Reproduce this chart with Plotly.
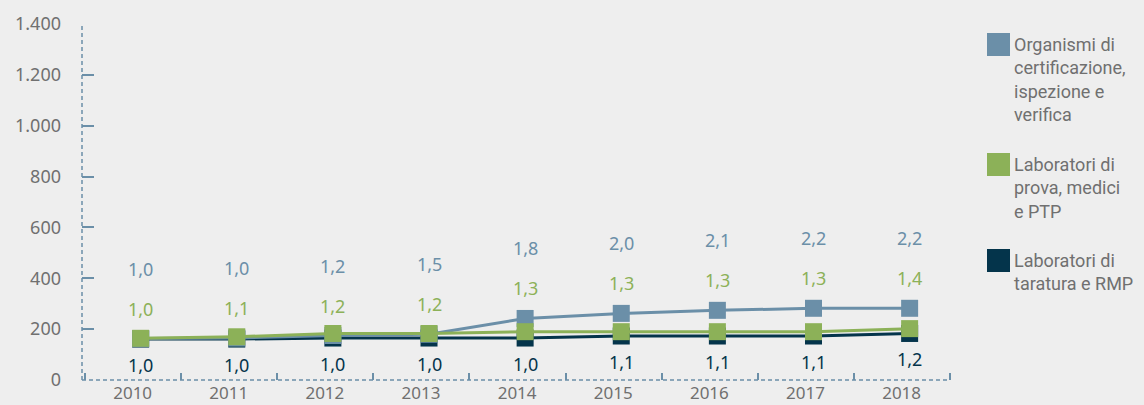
import plotly.graph_objects as go

# values
years = [2010, 2011, 2012, 2013, 2014, 2015, 2016, 2017, 2018]
cert_values = [163, 165, 175, 180, 242, 262, 274, 282, 282]
prova_values = [164, 170, 183, 183, 190, 190, 190, 190, 202]
taratura_values = [161, 161, 165, 165, 165, 173, 173, 173, 183]

cert_labels = ["1,0", "1,0", "1,2", "1,5", "1,8", "2,0", "2,1", "2,2", "2,2"]
prova_labels = ["1,0", "1,1", "1,2", "1,2", "1,3", "1,3", "1,3", "1,3", "1,4"]
taratura_labels = ["1,0", "1,0", "1,0", "1,0", "1,0", "1,1", "1,1", "1,1", "1,2"]

cert_name = "Organismi di<br>certificazione,<br>ispezione e<br>verifica"
prova_name = "Laboratori di<br>prova, medici<br>e PTP"
taratura_name = "Laboratori di<br>taratura e RMP"

BLUE = "#6b8fa8"
GREEN = "#8cb158"
DARK = "#04344b"
GREY = "#707070"
BG = "#eeeeee"
FONT = "Noto Sans"

# plot area in pixels
W, H = 1144, 405
L, R, T, B = 82, 950, 24, 380


def paper_x(px):
    return (px - L) / (R - L)


def paper_y(py):
    return (B - py) / (B - T)


def line_trace(values, color, name):
    return go.Scatter(x=years, y=values,
                      mode="lines+markers", name=name,
                      line=dict(color=color, width=3),
                      marker=dict(symbol="square", size=17, color=color),
                      showlegend=False, hoverinfo="skip")


fig = go.Figure()
fig.add_trace(line_trace(taratura_values, DARK, taratura_name))
fig.add_trace(line_trace(cert_values, BLUE, cert_name))
fig.add_trace(line_trace(prova_values, GREEN, prova_name))

annotations = []
for i, yr in enumerate(years):
    annotations.append(dict(x=yr, y=cert_values[i], xref="x", yref="y",
                            text=cert_labels[i], showarrow=False, yshift=70,
                            font=dict(color=BLUE, size=18, family=FONT)))
    annotations.append(dict(x=yr, y=cert_values[i], xref="x", yref="y",
                            text=prova_labels[i], showarrow=False, yshift=30,
                            font=dict(color=GREEN, size=18, family=FONT)))
    annotations.append(dict(x=yr, y=taratura_values[i], xref="x", yref="y",
                            text=taratura_labels[i], showarrow=False, yshift=-26,
                            font=dict(color=DARK, size=18, family=FONT)))

shapes = [
    # dashed axis lines
    dict(type="line", xref="paper", yref="paper", x0=0, x1=0, y0=0, y1=1,
         line=dict(color=BLUE, width=1.5, dash="4px,3px")),
    dict(type="line", xref="paper", yref="paper", x0=0, x1=1, y0=0, y1=0,
         line=dict(color=BLUE, width=1.5, dash="4px,3px")),
]

# custom legend
legend_items = [(cert_name, BLUE, 33), (prova_name, GREEN, 153), (taratura_name, DARK, 249)]
for name, color, top in legend_items:
    shapes.append(dict(type="rect", xref="paper", yref="paper",
                       x0=paper_x(987), x1=paper_x(1010),
                       y0=paper_y(top + 23), y1=paper_y(top),
                       fillcolor=color, line=dict(width=0)))
    annotations.append(dict(x=paper_x(1012), y=paper_y(top - 1), xref="paper", yref="paper",
                            xanchor="left", yanchor="top", align="left",
                            text=name, showarrow=False,
                            font=dict(color=GREY, size=18, family="Roboto")))

fig.update_layout(
    width=W, height=H,
    margin=dict(l=L, r=W - R, t=T, b=H - B),
    paper_bgcolor=BG, plot_bgcolor=BG,
    separators=",.",
    font=dict(family=FONT, size=17, color=GREY),
    xaxis=dict(range=[2009.39, 2018.42], tickmode="linear", tick0=2010, dtick=1,
               ticks="", ticklabelshift=-8, ticklabelstandoff=1, automargin=False,
               showgrid=False, zeroline=False, showline=False,
               minor=dict(tickmode="linear", tick0=2009.42, dtick=1, ticks="inside",
                          ticklen=7, tickwidth=1.5, tickcolor=BLUE, showgrid=False),
               tickfont=dict(size=17, color=GREY)),
    yaxis=dict(range=[0, 1400], tickmode="linear", tick0=0, dtick=200,
               separatethousands=True, showgrid=False, zeroline=False, showline=False,
               ticks="inside", ticklen=12, tickwidth=1.5, tickcolor=BLUE, automargin=False,
               ticklabelstandoff=20, tickfont=dict(size=18, color=GREY)),
    shapes=shapes,
    annotations=annotations,
)

fig.write_html("out.html", config={"displayModeBar": False},
               post_script="document.body.style.margin='0px';")
